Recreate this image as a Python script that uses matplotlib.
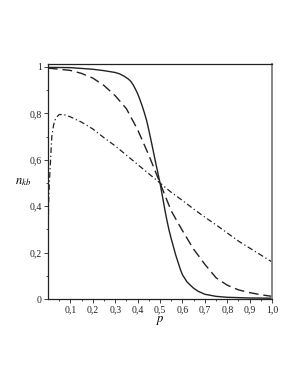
import matplotlib
matplotlib.use("Agg")
import matplotlib.pyplot as plt
from matplotlib.ticker import FixedLocator

# solid curve
p_solid = [0.0, 0.1, 0.2, 0.25, 0.3, 0.32, 0.34, 0.36, 0.37, 0.38, 0.39, 0.40, 0.41, 0.42,
           0.43, 0.44, 0.45, 0.46, 0.47, 0.48, 0.49, 0.5, 0.51, 0.52, 0.53, 0.54, 0.55,
           0.56, 0.57, 0.58, 0.59, 0.6, 0.61, 0.62, 0.63, 0.65, 0.67, 0.7, 0.75, 0.8, 0.9, 1.0]
n_solid = [0.998, 0.997, 0.99, 0.984, 0.976, 0.97, 0.96, 0.947, 0.937, 0.923, 0.905, 0.885,
           0.86, 0.833, 0.803, 0.77, 0.728, 0.683, 0.637, 0.59, 0.545, 0.5, 0.447, 0.393,
           0.343, 0.298, 0.26, 0.225, 0.19, 0.16, 0.13, 0.105, 0.09, 0.075, 0.065, 0.047,
           0.034, 0.021, 0.012, 0.008, 0.005, 0.004]

# dashed curve
p_dash = [0.0, 0.05, 0.1, 0.15, 0.2, 0.25, 0.3, 0.35, 0.4, 0.45, 0.5, 0.55, 0.6, 0.65,
          0.7, 0.75, 0.8, 0.85, 0.9, 0.95, 1.0]
n_dash = [0.995, 0.99, 0.985, 0.972, 0.952, 0.92, 0.876, 0.82, 0.73, 0.62, 0.5, 0.38, 0.295,
          0.215, 0.15, 0.092, 0.06, 0.04, 0.028, 0.019, 0.012]

# dash-dot curve
p_dd = [0.001, 0.003, 0.006, 0.01, 0.017, 0.025, 0.035, 0.05, 0.07, 0.1, 0.15, 0.2, 0.25,
        0.3, 0.35, 0.4, 0.45, 0.5, 0.55, 0.6, 0.65, 0.7, 0.75, 0.8, 0.85, 0.9, 0.95, 1.0]
n_dd = [0.31, 0.42, 0.5, 0.57, 0.70, 0.75, 0.78, 0.795, 0.795, 0.785, 0.762, 0.733, 0.695,
        0.66, 0.62, 0.58, 0.54, 0.50, 0.46, 0.425, 0.388, 0.353, 0.32, 0.285, 0.25, 0.22, 0.19, 0.16]

xticks = [0.1, 0.2, 0.3, 0.4, 0.5, 0.6, 0.7, 0.8, 0.9, 1.0]
xlabels = ['0,1', '0,2', '0,3', '0,4', '0,5', '0,6', '0,7', '0,8', '0,9', '1,0']
yticks = [0, 0.2, 0.4, 0.6, 0.8, 1.0]
ylabels = ['0', '0,2', '0,4', '0,6', '0,8', '1']

plt.rcParams['font.family'] = ['Liberation Serif', 'DejaVu Serif']
plt.rcParams['mathtext.fontset'] = 'stix'

fig = plt.figure(figsize=(2.98, 3.85), dpi=100)
ax = fig.add_axes([0.161, 0.223, 0.752, 0.611])

ax.plot(p_solid, n_solid, color='#222222', lw=1.0)
ax.plot(p_dash, n_dash, color='#222222', lw=1.0, dashes=(7, 3.5))
ax.plot(p_dd, n_dd, color='#222222', lw=0.9, dashes=(4.5, 2.2, 1, 2.2))

ax.set_xlim(0, 1.0)
ax.set_ylim(0, 1.013)
ax.set_xticks(xticks)
ax.set_xticklabels(xlabels)
ax.set_yticks(yticks)
ax.set_yticklabels(ylabels)
ax.xaxis.set_minor_locator(FixedLocator([0.05, 0.15, 0.25, 0.35, 0.45, 0.55, 0.65, 0.75, 0.85, 0.95]))
ax.yaxis.set_minor_locator(FixedLocator([0.1, 0.3, 0.5, 0.7, 0.9]))
ax.tick_params(axis='both', which='major', direction='out', length=3, width=0.6,
               labelsize=7, pad=1.5, colors='#222222')
ax.tick_params(axis='both', which='minor', direction='out', length=1.5, width=0.5)
ax.tick_params(top=False, right=False)

for s in ['left', 'bottom', 'top']:
    ax.spines[s].set_color('#222222')
    ax.spines[s].set_linewidth(0.9)
ax.spines['right'].set_color('#888888')
ax.spines['right'].set_linewidth(1.4)

ax.set_xlabel('$p$', fontsize=9, labelpad=0)
ax.set_ylabel('$n_{kb}$', fontsize=9, rotation=0, va='center', ha='center')
ax.yaxis.set_label_coords(-0.11, 0.5)

fig.savefig('out.png', dpi=100)
